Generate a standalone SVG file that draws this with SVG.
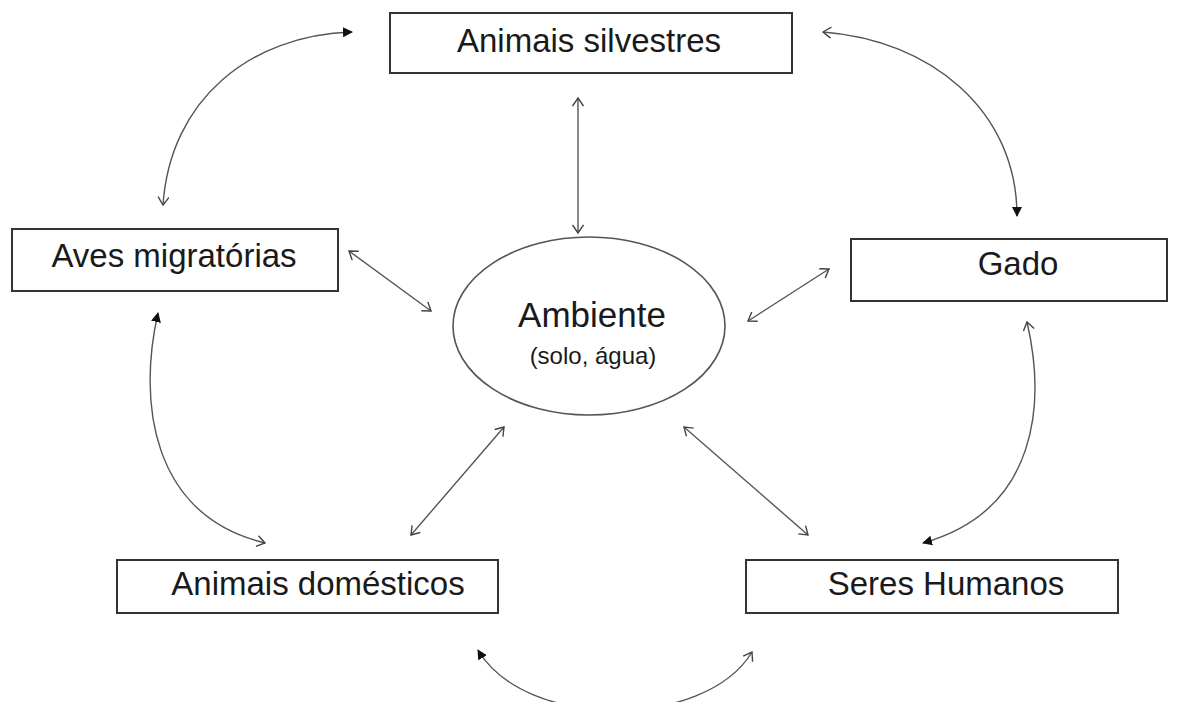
<svg xmlns="http://www.w3.org/2000/svg" width="1178" height="702" viewBox="0 0 1178 702">
<style>
.box{fill:#fff;stroke:#333;stroke-width:2}
.lbl{font-family:"Liberation Sans",Arial,sans-serif;font-size:33px;fill:#1a1a1a;text-anchor:middle}
.con{fill:none;stroke:#555;stroke-width:1.4}
.ah{fill:none;stroke:#444;stroke-width:1.4}
</style>
<defs>
<marker id="open" markerUnits="userSpaceOnUse" markerWidth="14" markerHeight="14" refX="9" refY="6" orient="auto-start-reverse">
<path class="ah" d="M1,0.5 L9,6 L1,11.5"/>
</marker>
<marker id="filled" markerUnits="userSpaceOnUse" markerWidth="14" markerHeight="14" refX="9" refY="5" orient="auto-start-reverse">
<path d="M0,0 L10,5 L0,10 Z" fill="#111"/>
</marker>
</defs>
<rect width="1178" height="702" fill="#fff"/>
<g id="connectors">
<line class="con" x1="578" y1="98" x2="578" y2="233" marker-start="url(#open)" marker-end="url(#open)"/>
<line class="con" x1="349" y1="251" x2="431" y2="311" marker-start="url(#open)" marker-end="url(#open)"/>
<line class="con" x1="829" y1="269" x2="748" y2="321" marker-start="url(#open)" marker-end="url(#open)"/>
<line class="con" x1="684" y1="427" x2="808" y2="535" marker-start="url(#open)" marker-end="url(#open)"/>
<line class="con" x1="504" y1="427" x2="411" y2="535" marker-start="url(#open)" marker-end="url(#open)"/>
<path class="con" d="M163,205 C170,100 250,35 352,32" marker-start="url(#open)" marker-end="url(#filled)"/>
<path class="con" d="M823,32 C930,40 1017,110 1017,216" marker-start="url(#open)" marker-end="url(#filled)"/>
<path class="con" d="M1027,322 C1045,400 1040,510 923,543" marker-start="url(#open)" marker-end="url(#filled)"/>
<path class="con" d="M265,543 C150,515 138,400 158,313" marker-start="url(#open)" marker-end="url(#filled)"/>
<path class="con" d="M752,652 C705,730 525,730 478,650" marker-start="url(#open)" marker-end="url(#filled)"/>
</g>
<g id="node-silvestres">
<rect class="box" x="390" y="13" width="402" height="60"/>
<text class="lbl" x="589" y="52">Animais silvestres</text>
</g>
<g id="node-aves">
<rect class="box" x="12" y="229" width="326" height="62"/>
<text class="lbl" x="174" y="267">Aves migratórias</text>
</g>
<g id="node-gado">
<rect class="box" x="851" y="239" width="316" height="62"/>
<text class="lbl" x="1018" y="275">Gado</text>
</g>
<g id="node-ambiente">
<ellipse cx="589" cy="326" rx="136" ry="89" fill="#fff" stroke="#555" stroke-width="1.6"/>
<text class="lbl" x="592" y="327" style="font-size:35px">Ambiente</text>
<text class="lbl" x="593" y="364" style="font-size:24px">(solo, água)</text>
</g>
<g id="node-domesticos">
<rect class="box" x="117" y="560" width="381" height="53"/>
<text class="lbl" x="318" y="595">Animais domésticos</text>
</g>
<g id="node-humanos">
<rect class="box" x="746" y="560" width="372" height="53"/>
<text class="lbl" x="946" y="595">Seres Humanos</text>
</g>
</svg>
